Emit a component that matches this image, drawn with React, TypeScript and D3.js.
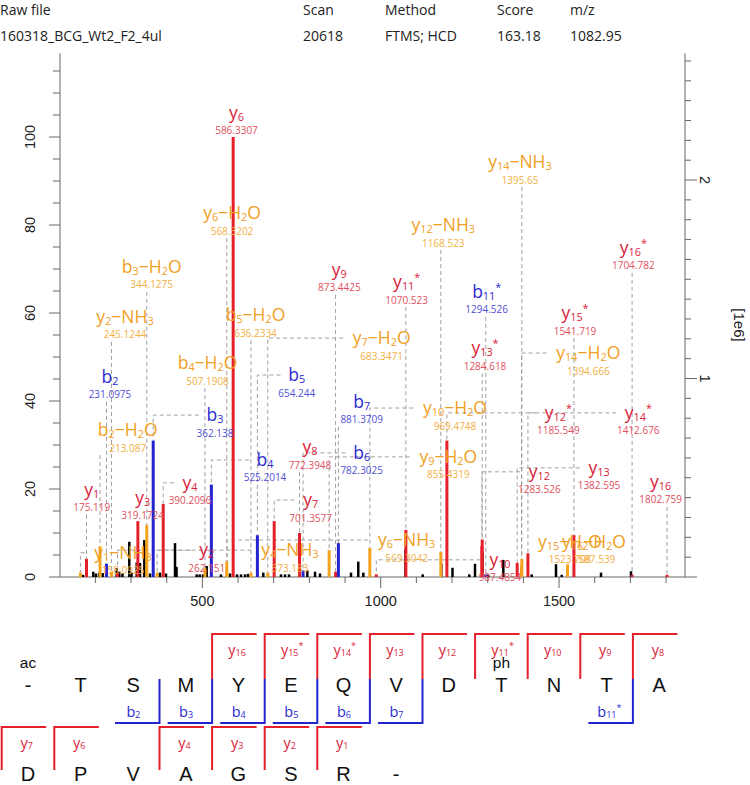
import React from "react";
import * as d3 from "d3";

// ---------- DATA ----------
const headerLabels = ["Raw file", "Scan", "Method", "Score", "m/z"];
const headerValues = ["160318_BCG_Wt2_F2_4ul", "20618", "FTMS; HCD", "163.18", "1082.95"];

const leftTickLabels = [0, 20, 40, 60, 80, 100];
const rightTickLabels = [1, 2];
const xTickLabels = [500, 1000, 1500];

// annotated fragment peaks
const ionNames = ["y1", "y1-NH3", "b2-H2O", "b2", "y2-NH3", "y2", "y3", "b3-H2O", "b3", "y4-NH3", "y4", "b4-H2O", "b4", "y6-H2O", "y6-NH3", "y6", "b5-H2O", "b5", "y7-H2O", "y7", "y8", "b6", "y9-H2O", "y9", "b7", "y10-H2O", "y10", "y11*", "y12-NH3", "y12*", "y12", "y13*", "b11*", "y13", "y14-H2O", "y14-NH3", "y14*", "y15-H2O", "y15*", "y16*", "y16"];
const ionMassText = ["175.119", "158.0925", "213.087", "231.0975", "245.1244", "262.151", "319.1724", "344.1275", "362.138", "373.183", "390.2096", "507.1908", "525.2014", "568.3202", "569.3042", "586.3307", "636.2334", "654.244", "683.3471", "701.3577", "772.3948", "782.3025", "855.4319", "873.4425", "881.3709", "969.4748", "987.4854", "1070.523", "1168.523", "1185.549", "1283.526", "1284.618", "1294.526", "1382.595", "1394.666", "1395.65", "1412.676", "1523.708", "1541.719", "1704.782", "1802.759"];
const ionIntensity = [4.1, 1.0, 7.0, 3.0, 1.2, 1.0, 12.7, 11.8, 31, 1.0, 16.6, 2.0, 21, 3.5, 1.0, 100, 1.0, 9.5, 1.0, 12.7, 10, 1.5, 6.1, 1.2, 7.7, 6.6, 0.6, 10.7, 5.7, 31, 7, 8.5, 0.6, 3.2, 2.5, 4.1, 5.4, 2.9, 9.5, 0.5, 0.5];
// label anchor (in m/z and % units)
const labelMz = [189.7, 277.5, 290.6, 241, 283.1, 512.1, 332.7, 357.9, 535.4, 745.7, 465.3, 514.4, 675.6, 583.1, 1072.8, 595.7, 649, 764.4, 1002.7, 803.7, 801.7, 946.7, 1189.5, 883.9, 946.7, 1208.2, 1334.4, 1072.8, 1175.4, 1497.9, 1444.6, 1292.4, 1297.1, 1612, 1582, 1390.5, 1722.1, 1530.7, 1544.7, 1708.1, 1784.9];
const labelInt = [19.8, 5.5, 33.4, 45.5, 59.1, 6.1, 18, 70.5, 36.8, 6.1, 21.4, 48.6, 26.6, 82.7, 8.4, 105.5, 59.5, 45.9, 54.3, 17.5, 29.5, 28.2, 27.3, 69.8, 39.8, 38.4, 3.9, 67, 80, 37.3, 23.9, 52, 64.8, 24.8, 50.9, 94.3, 37.3, 8, 60, 74.8, 21.6];

// overlapped extra label
const extraNames = ["y16-H2O"];
const extraMass = ["1587.539"];
const extraMz = [1598];
const extraInt = [8];

// unannotated peaks
const noiseMz = [165.3, 194.2, 201.8, 211, 220.5, 259.8, 267.1, 276, 295.1, 301.3, 315.9, 325.1, 337.2, 353.2, 381.2, 398, 423.3, 427.5, 484.1, 492.5, 501.8, 512.1, 552.2, 577.5, 597.1, 608.3, 619.5, 627.9, 670.8, 720.4, 731.6, 742.9, 794.2, 815.8, 829.8, 916.7, 937.1, 951.2, 1069.5, 1117.7, 1169.9, 1201.2, 1248.3, 1264.3, 1285.3, 1301.6, 1343.7, 1394.7, 1423.3, 1491.4, 1507.4, 1617.6, 1701.7];
const noiseInt = [0.5, 1.2, 0.8, 1.0, 0.9, 2.0, 1.2, 0.8, 8.0, 1.0, 3.3, 3.2, 8.4, 0.8, 1.0, 0.8, 7.7, 2.3, 0.6, 0.6, 0.6, 2.5, 0.6, 0.8, 0.6, 0.6, 0.6, 0.7, 1.0, 0.6, 0.6, 0.6, 1.5, 1.2, 0.8, 1.0, 3.5, 1.0, 6.3, 0.6, 3.1, 2.1, 0.6, 3.0, 5.5, 0.5, 3.9, 1.7, 0.6, 2.9, 0.5, 1.0, 1.3];

// sequence
const seqRow1 = ["-", "T", "S", "M", "Y", "E", "Q", "V", "D", "T", "N", "T", "A"];
const seqRow2 = ["D", "P", "V", "A", "G", "S", "R", "-"];
const modText = ["ac", "ph"];
const modCol = [0, 9];
const yFragNames = ["y16", "y15*", "y14*", "y13", "y12", "y11*", "y10", "y9", "y8", "y7", "y6", "y4", "y3", "y2", "y1"];
const bFragNames = ["b2", "b3", "b4", "b5", "b6", "b7", "b11*"];
const residueCount = 19;

// ---------- STYLE ----------
const FONT = "'Open Sans', 'DejaVu Sans', sans-serif";
const AXFONT = "'Liberation Sans', Arial, sans-serif";
const BAR = { y: "#e5202b", b: "#2424cf", loss: "#f3a31d", noise: "#000000" };
const TXT = { y: "#d8233a", b: "#2a2ad0", loss: "#f0a01e" };
const MASS = { y: "#e0505e", b: "#5050d6", loss: "#f2b044" };
const AXIS = "#666";

function ionType(name: string): "y" | "b" | "loss" {
  if (name.includes("-")) return "loss";
  return name[0] === "b" ? "b" : "y";
}

function ionParts(name: string) {
  const m = /^([a-z])(\d+)(\*?)(?:-(H2O|NH3))?$/.exec(name);
  if (!m) return [{ t: name, s: 0 }];
  const parts: { t: string; s: number }[] = [{ t: m[1], s: 0 }, { t: m[2], s: 1 }];
  if (m[3]) parts.push({ t: "*", s: -1 });
  if (m[4] === "H2O") parts.push({ t: "\u2212H", s: 0 }, { t: "2", s: 1 }, { t: "O", s: 0 });
  if (m[4] === "NH3") parts.push({ t: "\u2212NH", s: 0 }, { t: "3", s: 1 });
  return parts;
}

function ionWidth(name: string, fs: number) {
  const m = /^([a-z])(\d+)(\*?)(?:-(H2O|NH3))?$/.exec(name);
  if (!m) return name.length * fs * 0.6;
  let w = 0.58 + m[2].length * 0.36 + (m[3] ? 0.3 : 0) + (m[4] ? 2.55 : 0);
  return w * fs;
}

function IonText(props: { name: string; x: number; y: number; fs: number; fill: string; family?: string }) {
  const { name, x, y, fs, fill } = props;
  const parts = ionParts(name);
  let cur = 0;
  return (
    <text x={x} y={y} fontSize={fs} fill={fill} textAnchor="middle" fontFamily={props.family || FONT}>
      {parts.map((p, i) => {
        const off = p.s === 1 ? fs * 0.1 : p.s === -1 ? -fs * 0.4 : 0;
        const dy = off - cur;
        cur = off;
        return (
          <tspan key={i} dy={dy} fontSize={p.s !== 0 ? fs * 0.62 : fs}>
            {p.t}
          </tspan>
        );
      })}
    </text>
  );
}

export default function App() {
  const W = 750;
  const H = 785;
  const x = d3.scaleLinear().domain([100, 1850]).range([59.7, 683.9]);
  const y = d3.scaleLinear().domain([0, 119]).range([577, 53.4]);
  const yR = d3.scaleLinear().domain([0, 2.64]).range([577, 53]);
  const axisLeft = 60;
  const axisRight = 685;
  const base = y(0);

  const LFS = 17.5; // ion label font size
  const MFS = 10; // mass font size

  // header
  const headerX = [0, 303, 385, 497, 570];

  // connectors
  const connectors = ionNames.map((name, i) => {
    const px = x(+ionMassText[i]);
    const ptop = y(ionIntensity[i]);
    const lx = x(labelMz[i]);
    const ly = y(labelInt[i]);
    const iw = ionWidth(name, LFS);
    const mw = ionMassText[i].length * 0.55 * MFS;
    const half = Math.max(iw, mw) / 2 + 4;
    const startY = ly + 25;
    if (Math.abs(lx - px) <= half) {
      if (ptop - startY < 2) return null;
      return d3.line()([[px, startY], [px, ptop]]);
    }
    const edge = px < lx ? lx - iw / 2 - 8 : lx + iw / 2 + 8;
    const ey = ly;
    return d3.line()([[edge, ey], [px, ey], [px, ptop]]);
  });

  // sequence layout
  const col = d3.scaleLinear().domain([0, 12]).range([28, 659.2]);
  const boundary = (k: number) => {
    if (k < 12) return { row: 0, bx: col(k + 0.5) };
    return { row: 1, bx: col(k - 13 + 0.5) };
  };
  const fragNum = (n: string) => parseInt(n.replace(/[^0-9]/g, ""), 10);

  const leftTicks = d3.range(0, 116, 5);
  const rightTicks = d3.range(0, 27, 1).map((d) => d / 10);
  const xTicks = d3.range(200, 1801, 100);

  return (
    <svg width={W} height={H} style={{ position: "absolute", left: 0, top: 0, background: "#fff" }}>
      {/* header */}
      {headerLabels.map((t, i) => (
        <text key={"hl" + i} x={headerX[i]} y={15} fontSize={14} fontFamily={FONT} fill="#222">
          {t}
        </text>
      ))}
      {headerValues.map((t, i) => (
        <text key={"hv" + i} x={headerX[i]} y={41} fontSize={14} fontFamily={FONT} fill="#222">
          {t}
        </text>
      ))}

      {/* axes */}
      <line x1={axisLeft} x2={axisLeft} y1={y(119)} y2={base} stroke={AXIS} strokeWidth={1} />
      <line x1={axisRight} x2={axisRight} y1={y(119)} y2={base} stroke={AXIS} strokeWidth={1} />
      <line x1={axisLeft} x2={axisRight} y1={base} y2={base} stroke={AXIS} strokeWidth={1} />
      {leftTicks.map((t) => {
        const major = leftTickLabels.includes(t);
        return (
          <line key={"lt" + t} x1={axisLeft - (major ? 11 : 7)} x2={axisLeft} y1={y(t)} y2={y(t)} stroke={AXIS} strokeWidth={1} />
        );
      })}
      {leftTickLabels.map((t) => (
        <text key={"ll" + t} transform={`translate(30,${y(t)}) rotate(-90)`} textAnchor="middle" dy="0.35em" fontSize={14.5} fontFamily={AXFONT} fill="#222">
          {t}
        </text>
      ))}
      {rightTicks.map((t) => {
        const major = Math.abs(t - Math.round(t)) < 1e-6;
        return (
          <line key={"rt" + t} x1={axisRight} x2={axisRight + (major ? 12 : 6)} y1={yR(t)} y2={yR(t)} stroke={AXIS} strokeWidth={1} />
        );
      })}
      {rightTickLabels.map((t) => (
        <text key={"rl" + t} transform={`translate(705,${yR(t)}) rotate(90)`} textAnchor="middle" dy="0.35em" fontSize={14.5} fontFamily={AXFONT} fill="#222">
          {t}
        </text>
      ))}
      <text transform={`translate(739,325) rotate(90)`} textAnchor="middle" dy="0.35em" fontSize={15} fontFamily={AXFONT} fill="#222">
        [1e6]
      </text>
      {xTicks.map((t) => {
        const major = xTickLabels.includes(t);
        return <line key={"xt" + t} x1={x(t)} x2={x(t)} y1={base} y2={base + (major ? 11 : 6)} stroke={AXIS} strokeWidth={1} />;
      })}
      {xTickLabels.map((t) => (
        <text key={"xl" + t} x={x(t)} y={606} textAnchor="middle" fontSize={14.5} fontFamily={AXFONT} fill="#222">
          {t}
        </text>
      ))}

      {/* connectors */}
      {connectors.map((d, i) =>
        d ? <path key={"c" + i} d={d} fill="none" stroke="#a0a0a0" strokeWidth={1} strokeDasharray="4 3" /> : null
      )}

      {/* noise peaks */}
      {noiseMz.map((m, i) => (
        <line key={"n" + i} x1={x(m)} x2={x(m)} y1={base} y2={y(noiseInt[i])} stroke={BAR.noise} strokeWidth={2.5} />
      ))}

      {/* annotated peaks */}
      {ionNames.map((name, i) => (
        <line key={"p" + i} x1={x(+ionMassText[i])} x2={x(+ionMassText[i])} y1={base} y2={y(ionIntensity[i])} stroke={BAR[ionType(name)]} strokeWidth={3} />
      ))}

      {/* labels */}
      {ionNames.map((name, i) => {
        const t = ionType(name);
        const lx = x(labelMz[i]);
        const ly = y(labelInt[i]);
        return (
          <g key={"l" + i}>
            <IonText name={name} x={lx} y={ly + LFS * 0.35} fs={LFS} fill={TXT[t]} />
            <text x={lx} y={ly + 18 + MFS * 0.35} textAnchor="middle" fontSize={MFS} fontFamily={FONT} fill={MASS[t]}>
              {ionMassText[i]}
            </text>
          </g>
        );
      })}
      {extraNames.map((name, i) => {
        const t = ionType(name);
        const lx = x(extraMz[i]);
        const ly = y(extraInt[i]);
        return (
          <g key={"e" + i}>
            <IonText name={name} x={lx} y={ly + LFS * 0.35} fs={LFS} fill={TXT[t]} />
            <text x={lx} y={ly + 18 + MFS * 0.35} textAnchor="middle" fontSize={MFS} fontFamily={FONT} fill={MASS[t]}>
              {extraMass[i]}
            </text>
          </g>
        );
      })}

      {/* sequence */}
      {seqRow1.map((s, i) => (
        <text key={"s1" + i} x={col(i)} y={692} textAnchor="middle" fontSize={20} fontFamily={AXFONT} fill="#111">
          {s}
        </text>
      ))}
      {seqRow2.map((s, i) => (
        <text key={"s2" + i} x={col(i)} y={781} textAnchor="middle" fontSize={20} fontFamily={AXFONT} fill="#111">
          {s}
        </text>
      ))}
      {modText.map((m, i) => (
        <text key={"m" + i} x={col(modCol[i])} y={668} textAnchor="middle" fontSize={15.5} fontFamily={AXFONT} fill="#111">
          {m}
        </text>
      ))}
      {yFragNames.map((n) => {
        const k = residueCount - fragNum(n);
        const { row, bx } = boundary(k);
        const top = row === 0 ? 634 : 727;
        const bot = row === 0 ? 679 : 770;
        const star = n.includes("*");
        return (
          <g key={"yf" + n}>
            <path d={d3.line()([[bx, bot], [bx, top], [bx + 44.5, top]]) || ""} fill="none" stroke={BAR.y} strokeWidth={2} />
            <IonText name={n} x={bx + 25 + (star ? 2.5 : 0)} y={top + 21} fs={14.5} fill={TXT.y} />
          </g>
        );
      })}
      {bFragNames.map((n) => {
        const k = fragNum(n);
        const { bx } = boundary(k);
        const star = n.includes("*");
        return (
          <g key={"bf" + n}>
            <path d={d3.line()([[bx, 679], [bx, 723], [bx - 44.5, 723]]) || ""} fill="none" stroke={BAR.b} strokeWidth={2} />
            <IonText name={n} x={bx - 26 + (star ? 2.5 : 0)} y={717} fs={14.5} fill={TXT.b} />
          </g>
        );
      })}
    </svg>
  );
}
